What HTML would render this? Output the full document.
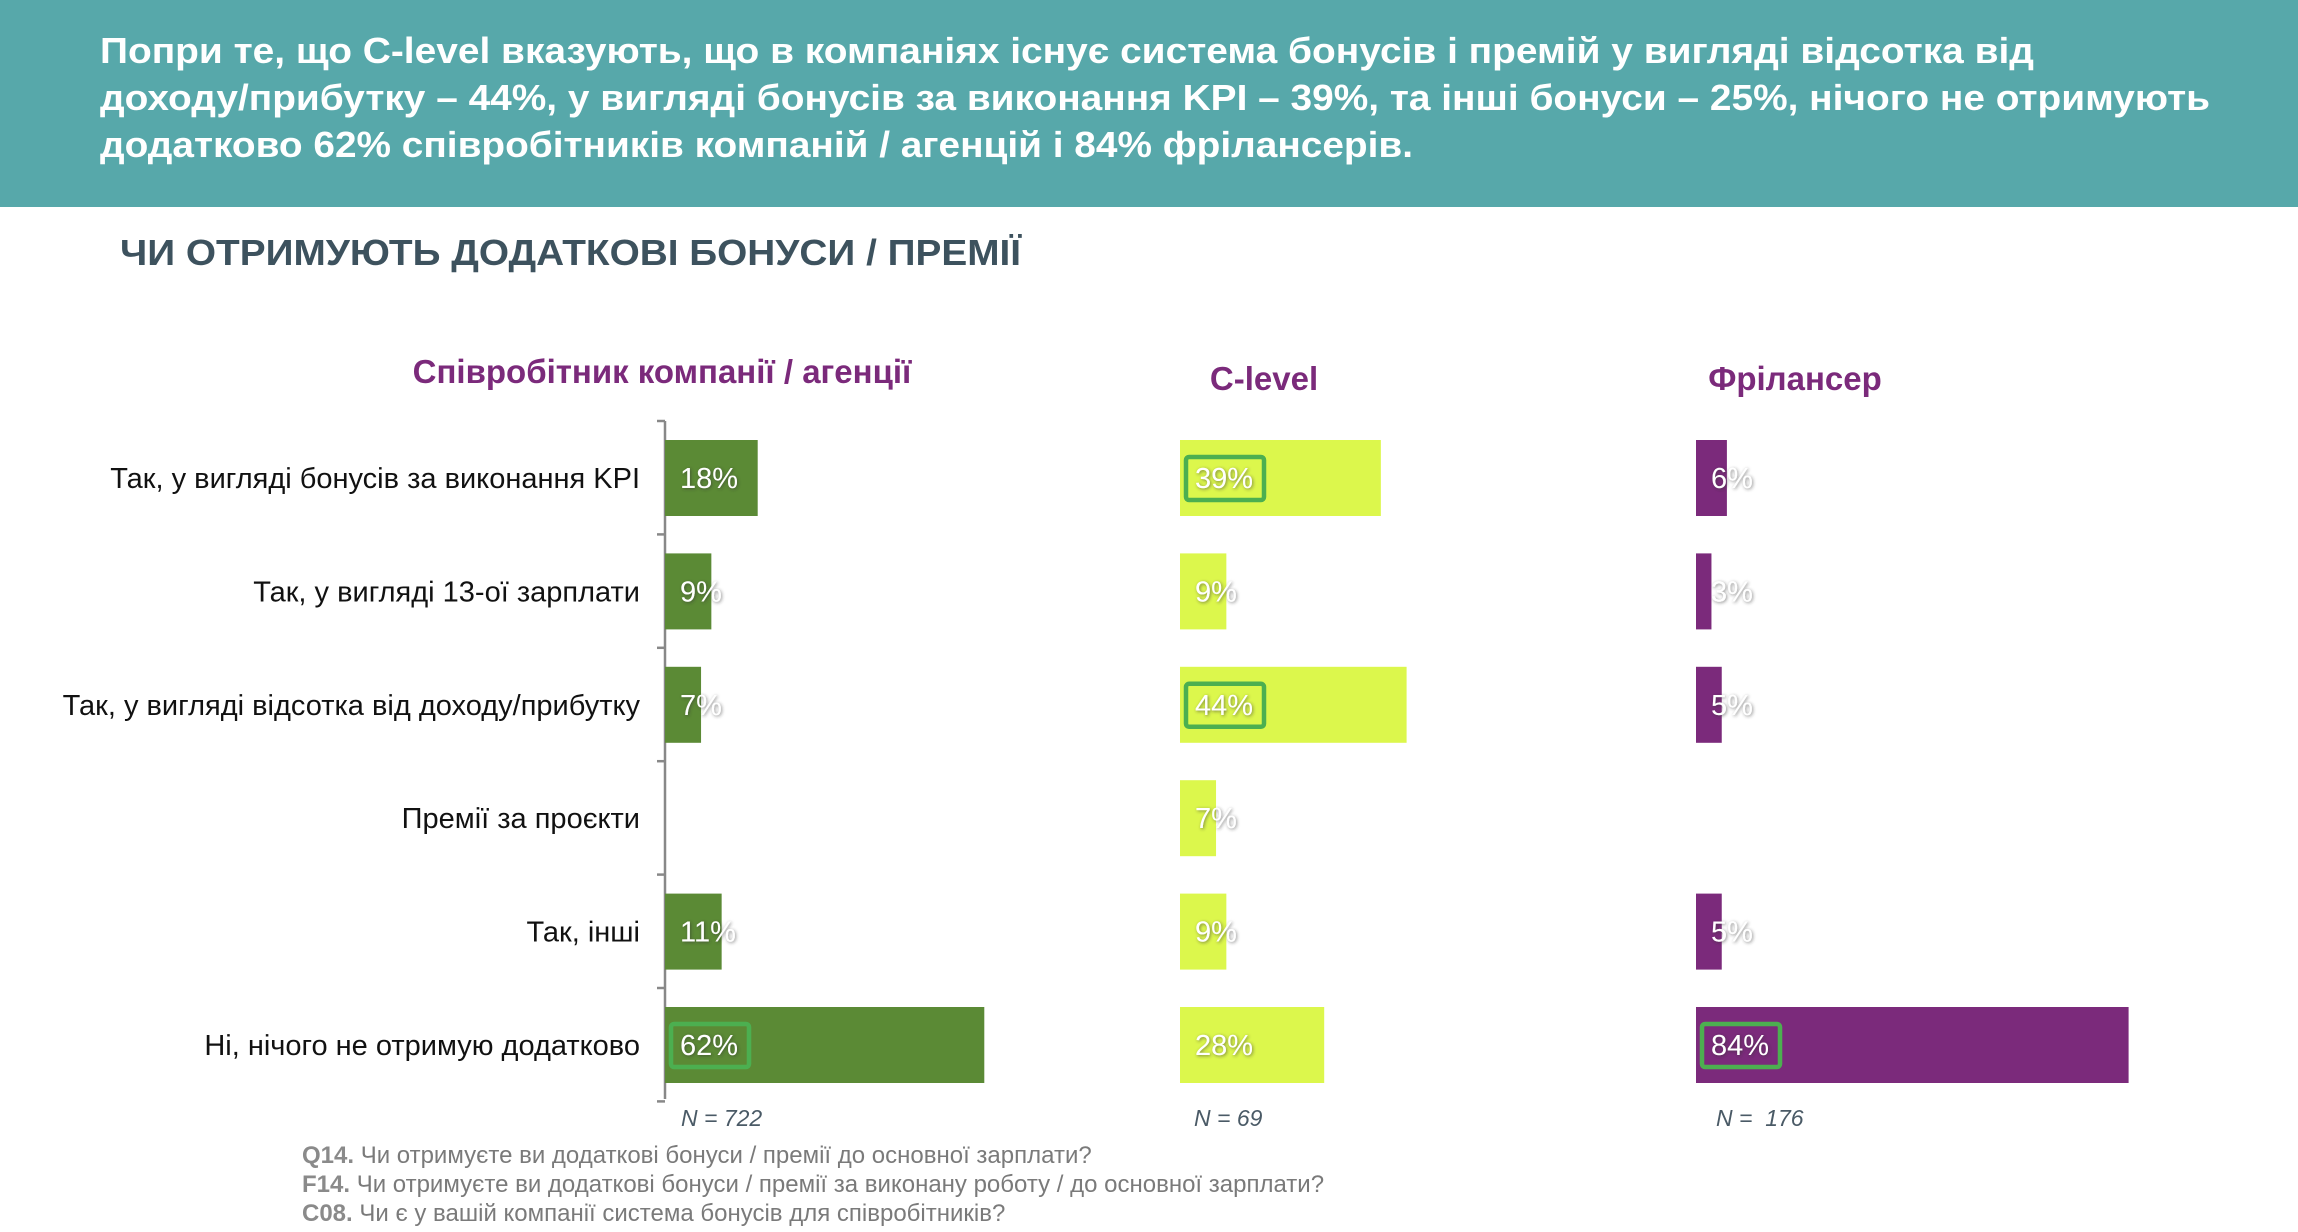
<!DOCTYPE html>
<html><head><meta charset="utf-8">
<style>
html,body{margin:0;padding:0;background:#fff;}
body{width:2298px;height:1232px;overflow:hidden;position:relative;font-family:"Liberation Sans","DejaVu Sans",sans-serif;}
#hdr{position:absolute;left:0;top:0;width:2298px;height:207px;background:#57a8aa;}
svg{position:absolute;left:0;top:0;}
.foot{position:absolute;left:302px;font-size:24px;color:#7a7a7a;white-space:nowrap;}
.foot b{color:#8a8a8a;}
</style></head><body>
<div id="hdr"></div>
<svg id="chart" width="2298" height="1232">
<g fill="#fff" font-weight="bold" font-size="36">
<text x="100" y="63" textLength="1934" lengthAdjust="spacingAndGlyphs">Попри те, що C-level вказують, що в компаніях існує система бонусів і премій у вигляді відсотка від</text>
<text x="100" y="110" textLength="2110" lengthAdjust="spacingAndGlyphs">доходу/прибутку – 44%, у вигляді бонусів за виконання KPI – 39%, та інші бонуси – 25%, нічого не отримують</text>
<text x="100" y="157" textLength="1313" lengthAdjust="spacingAndGlyphs">додатково 62% співробітників компаній / агенцій і 84% фрілансерів.</text>
</g>
<text x="120" y="265" font-size="36" font-weight="bold" fill="#3d525e" textLength="901" lengthAdjust="spacingAndGlyphs">ЧИ ОТРИМУЮТЬ ДОДАТКОВІ БОНУСИ / ПРЕМІЇ</text>
</svg>
<div class="foot" style="top:1142px"><b>Q14.</b> Чи отримуєте ви додаткові бонуси / премії до основної зарплати?</div>
<div class="foot" style="top:1171px"><b>F14.</b> Чи отримуєте ви додаткові бонуси / премії за виконану роботу / до основної зарплати?</div>
<div class="foot" style="top:1200px"><b>C08.</b> Чи є у вашій компанії система бонусів для співробітників?</div>
<script>
const categories = ["Так, у вигляді бонусів за виконання KPI","Так, у вигляді 13-ої зарплати","Так, у вигляді відсотка від доходу/прибутку","Премії за проєкти","Так, інші","Ні, нічого не отримую додатково"];
const employeeValues = [18,9,7,null,11,62];
const clevelValues = [39,9,44,7,9,28];
const freelancerValues = [6,3,5,null,5,84];
const employeeHighlight = [false,false,false,false,false,true];
const clevelHighlight = [true,false,true,false,false,false];
const freelancerHighlight = [false,false,false,false,false,true];
const panelTitles = ["Співробітник компанії / агенції","C-level","Фрілансер"];
const sampleLabels = ["N = 722","N = 69","N =\u00a0\u00a0176"];

const NS="http://www.w3.org/2000/svg";
const svg=document.getElementById('chart');
function mk(tag,attrs,parent){const e=document.createElementNS(NS,tag);for(const k in attrs)e.setAttribute(k,attrs[k]);(parent||svg).appendChild(e);return e;}
const pxPerPct=5.15;
function xScale(v){return v*pxPerPct;}
const rowTop=440, rowPitch=113.4, barH=76;
function yScale(i){return rowTop+i*rowPitch;}

const defs=mk('defs',{});
const f=mk('filter',{id:'sh',x:'-20%',y:'-20%',width:'140%',height:'140%'},defs);
mk('feDropShadow',{dx:'1',dy:'1',stdDeviation:'1.5','flood-color':'#333','flood-opacity':'0.6'},f);

const ax=mk('line',{x1:665,y1:421,x2:665,y2:1099,stroke:'#888','stroke-width':2.5});


for(let k=0;k<=6;k++){
  const ty=421+k*rowPitch;
  const t=mk('line',{x1:657,y1:ty,x2:665,y2:ty,stroke:'#888','stroke-width':2.5});
  
  
}
categories.forEach((c,i)=>{
  const t=mk('text',{x:640,y:yScale(i)+barH/2+10,'text-anchor':'end','font-size':29,fill:'#111'});
  t.textContent=c;
  
  
});

const panels=[
 {x0:665,vals:employeeValues,hl:employeeHighlight,color:'#5b8a35',tx:662,nx:681},
 {x0:1180,vals:clevelValues,hl:clevelHighlight,color:'#dcf74c',tx:1264,nx:1194},
 {x0:1696,vals:freelancerValues,hl:freelancerHighlight,color:'#7b2a7b',tx:1795,nx:1716}
];
panels.forEach((p,pi)=>{
  const tt=mk('text',{x:p.tx,y:pi===0?383:390,'text-anchor':'middle','font-size':33,'font-weight':'bold',fill:'#7b2a7b'});
  tt.textContent=panelTitles[pi];
  
  
  p.vals.forEach((v,i)=>{
    if(v===null)return;
    const y=yScale(i);
    const r=mk('rect',{x:p.x0,y:y,width:xScale(v),height:barH,fill:p.color});
    
    
    if(p.hl[i]){
      const b=mk('rect',{x:p.x0+6,y:y+17,width:78,height:43,rx:3,fill:'none',stroke:'#4caf50','stroke-width':4.5});
      
      
    }
    const l=mk('text',{x:p.x0+15,y:y+barH/2+10,'font-size':29,fill:'#fff',filter:'url(#sh)'});
    l.textContent=v+'%';
    
    
  });
  const n=mk('text',{x:p.nx,y:1126,'font-size':23,'font-style':'italic',fill:'#4a5a66'});
  n.textContent=sampleLabels[pi];
  
  
});
</script>
</body></html>
